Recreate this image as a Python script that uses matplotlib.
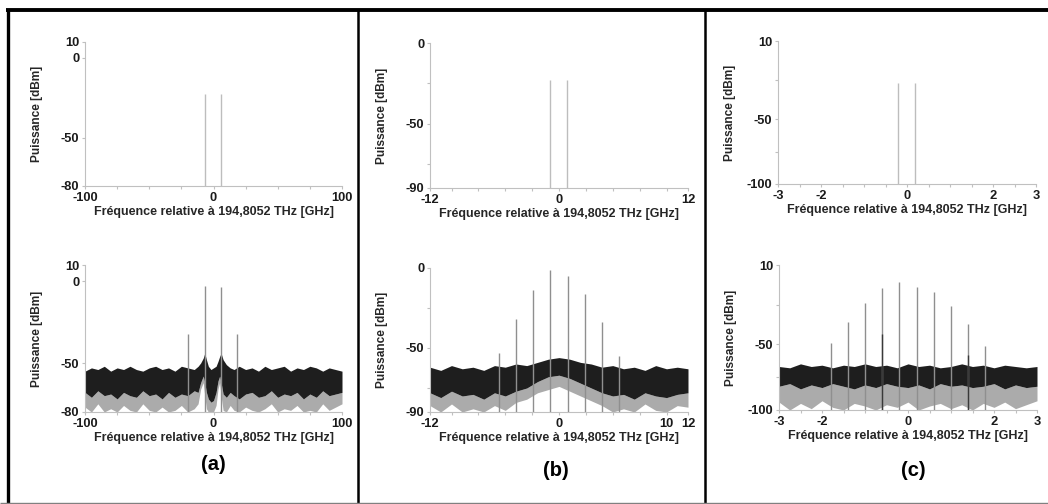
import numpy as np
import matplotlib.pyplot as plt
from matplotlib.lines import Line2D

plt.rcParams['font.family'] = ['Liberation Sans', 'DejaVu Sans']
plt.rcParams['font.weight'] = 'bold'
plt.rcParams['axes.unicode_minus'] = False

W, H = 1048, 504

# --- (a) : +/- 100 GHz ---
raies_a_haut = [-6.6, 6.0]
niv_a_haut = [-22.5, -22.5]
raies_a_bas = [-19.6, -6.6, 6.0, 18.6]
niv_a_bas = [-32, -3, -3.7, -32]
bruit_a_x = [-100, -95, -90, -85, -80, -75, -70, -65, -60, -55, -50, -45, -40, -35, -30, -25, -20,
             -15, -12, -10, -8, -6.8, -5.5, -4, -2, 0, 2, 3.5, 4.8, 5.9, 7.5, 10, 13, 16, 20, 25,
             30, 35, 40, 45, 50, 55, 60, 65, 70, 75, 80, 85, 90, 95, 100]
bruit_a_haut = [-55, -53, -54, -52, -55, -53, -54, -52, -54, -55,
                -53, -52, -54, -53, -55, -52, -53, -54, -52, -50,
                -47, -44, -48, -52, -54, -53, -52, -49, -46, -44,
                -48, -51, -53, -54, -52, -54, -53, -55, -52, -54,
                -53, -52, -55, -53, -54, -52, -53, -55, -53, -54, -55]
bruit_a_bas = [-68, -71, -67, -70, -69, -72, -68, -70, -71, -67,
               -70, -69, -72, -68, -71, -69, -70, -67, -68, -62,
               -58, -62, -68, -72, -74, -73, -68, -61, -58, -62,
               -69, -71, -68, -70, -72, -69, -68, -71, -70, -67,
               -71, -69, -70, -68, -72, -69, -71, -67, -70, -69, -68]
bruit_a_gris = [-77, -80, -75, -80, -78, -80, -76, -79, -80, -75,
                -79, -80, -77, -80, -79, -76, -80, -78, -75, -66,
                -62, -70, -78, -80, -80, -80, -76, -66, -62, -70,
                -79, -80, -76, -79, -80, -77, -79, -80, -78, -75,
                -80, -78, -79, -76, -80, -79, -80, -75, -79, -77, -75]

# --- (b) : +/- 12 GHz ---
raies_b_haut = [-0.85, 0.75]
niv_b_haut = [-23, -23]
raies_b_bas = [-5.6, -4.0, -2.4, -0.8, 0.85, 2.4, 4.0, 5.6]
niv_b_bas = [-53, -32, -14, -1.5, -5.2, -16, -34, -55]
bruit_b_x = [-12, -11, -10, -9, -8, -7, -6, -5, -4, -3, -2, -1, 0, 1, 2, 3, 4, 5, 6, 7, 8, 9, 10, 11, 12]
bruit_b_haut = [-62, -64, -61, -63, -62, -64, -61, -62, -60, -61, -59, -57, -56, -57, -59, -60, -62,
                -61, -63, -62, -64, -61, -63, -62, -63]
bruit_b_bas = [-78, -81, -77, -80, -79, -82, -78, -80, -77, -75, -71, -68, -67, -69, -72, -75, -78,
               -80, -79, -82, -78, -80, -81, -79, -78]
bruit_b_gris = [-86, -90, -85, -90, -88, -90, -86, -89, -84, -82, -78, -76, -74, -77, -80, -83, -86,
                -90, -88, -90, -85, -89, -90, -86, -87]

# --- (c) : +/- 3 GHz ---
raies_c_haut = [-0.21, 0.19]
niv_c_haut = [-22.5, -22.5]
raies_c_bas = [-1.8, -1.4, -1.0, -0.6, -0.2, 0.2, 0.6, 1.0, 1.4, 1.8]
niv_c_bas = [-49.5, -33.5, -19, -7.7, -2.6, -6.9, -10.5, -21, -35, -51.5]
raies_c_sombres = [-0.6, 1.4]
niv_c_sombres = [-42, -58]
bruit_c_x = [-3, -2.75, -2.5, -2.25, -2, -1.75, -1.5, -1.25, -1, -0.75, -0.5, -0.25, 0, 0.25, 0.5,
             0.75, 1, 1.25, 1.5, 1.75, 2, 2.25, 2.5, 2.75, 3]
bruit_c_haut = [-67, -68, -65, -67, -66, -68, -66, -67, -65, -67, -66, -68, -65, -67, -66, -68, -67,
                -65, -67, -66, -68, -66, -67, -68, -67]
bruit_c_bas = [-82, -80, -84, -81, -83, -80, -82, -84, -81, -83, -80, -82, -83, -81, -84, -80, -82,
               -81, -83, -82, -80, -84, -81, -83, -82]
bruit_c_gris = [-94, -100, -95, -99, -93, -98, -100, -95, -97, -100, -96, -98, -94, -100, -97, -95,
                -99, -96, -100, -95, -98, -94, -99, -96, -93]

panneaux = [
    dict(box=(85, 42, 342, 186), xlim=(-100, 100), ylim=(-80, 10), xt=[-100, 0, 100],
         xmin=np.arange(-75, 100, 25), yt=[10, 0, -50, -80], ymin=[],
         raies=raies_a_haut, niv=niv_a_haut, coul='#bdbdbd', bruit=None),
    dict(box=(85, 265, 342, 412), xlim=(-100, 100), ylim=(-80, 10), xt=[-100, 0, 100],
         xmin=np.arange(-75, 100, 25), yt=[10, 0, -50, -80], ymin=[],
         raies=raies_a_bas, niv=niv_a_bas, coul='#8f8f8f',
         bruit=(bruit_a_x, bruit_a_haut, bruit_a_bas, bruit_a_gris)),
    dict(box=(430, 43, 688, 188), xlim=(-12, 12), ylim=(-90, 0), xt=[-12, 0, 12],
         xmin=np.arange(-10, 11, 2.5), yt=[0, -50, -90], ymin=[-25, -75],
         raies=raies_b_haut, niv=niv_b_haut, coul='#bdbdbd', bruit=None),
    dict(box=(430, 268, 688, 412), xlim=(-12, 12), ylim=(-90, 0), xt=[-12, 0, 10, 12],
         xmin=np.arange(-10, 11, 2.5), yt=[0, -50, -90], ymin=[-25, -75],
         raies=raies_b_bas, niv=niv_b_bas, coul='#8f8f8f',
         bruit=(bruit_b_x, bruit_b_haut, bruit_b_bas, bruit_b_gris)),
    dict(box=(778, 41, 1036, 184), xlim=(-3, 3), ylim=(-100, 10), xt=[-3, -2, 0, 2, 3],
         xmin=np.arange(-2.5, 3, 0.5), yt=[10, -50, -100], ymin=[-20, -75],
         raies=raies_c_haut, niv=niv_c_haut, coul='#bdbdbd', bruit=None),
    dict(box=(779, 265, 1037, 410), xlim=(-3, 3), ylim=(-100, 10), xt=[-3, -2, 0, 2, 3],
         xmin=np.arange(-2.5, 3, 0.5), yt=[10, -50, -100], ymin=[-20, -75],
         raies=raies_c_bas, niv=niv_c_bas, coul='#8f8f8f',
         bruit=(bruit_c_x, bruit_c_haut, bruit_c_bas, bruit_c_gris)),
]

fig = plt.figure(figsize=(W / 100, H / 100), dpi=100)
axes = []

for p in panneaux:
    x0, y0, x1, y1 = p['box']
    w, h = x1 - x0, y1 - y0
    ax = fig.add_axes([x0 / W, 1 - y1 / H, w / W, h / H])
    axes.append(ax)
    bas = p['ylim'][0]
    if p['bruit'] is not None:
        bx, bh, bb, bg = p['bruit']
        ax.fill_between(bx, bg, bb, color='#ababab', lw=0, zorder=1)
        ax.fill_between(bx, bb, bh, color='#1e1e1e', lw=0, zorder=2)
    ax.vlines(p['raies'], bas, p['niv'], color=p['coul'], lw=1.0, zorder=3)
    ax.set_xlim(*p['xlim'])
    ax.set_ylim(*p['ylim'])
    ax.set_xticks(p['xt'])
    ax.set_xticklabels([str(v) for v in p['xt']])
    ax.set_xticks(p['xmin'], minor=True)
    ax.set_yticks(p['yt'])
    ax.set_yticklabels([str(v) for v in p['yt']])
    ax.set_yticks(p['ymin'], minor=True)
    for s in ['top', 'right']:
        ax.spines[s].set_visible(False)
    for s in ['left', 'bottom']:
        ax.spines[s].set_color('#c0c0c0')
        ax.spines[s].set_linewidth(0.8)
    ax.tick_params(which='both', color='#c0c0c0', width=0.8, length=2.5, labelsize=9.3, pad=1.5,
                   labelcolor='#1a1a1a')
    for lab in ax.get_xticklabels() + ax.get_yticklabels():
        lab.set_fontweight('bold')
    ax.set_xlabel('Fréquence relative à 194,8052 THz [GHz]', fontsize=9, fontweight='bold',
                  color='#262626', va='center')
    ax.xaxis.set_label_coords(0.5, -26 / h)
    ax.set_ylabel('Puissance [dBm]', fontsize=8.6, fontweight='bold', color='#262626', va='center')
    ax.yaxis.set_label_coords(-48 / w, 0.5)
    ax.patch.set_alpha(0)

# raies sombres superposées dans (c)
axes[5].vlines(raies_c_sombres, -100, niv_c_sombres, color='#3a3a3a', lw=1.0, zorder=4)

# étiquettes des sous-figures
fig.text(213 / W, 1 - 464 / H, '(a)', ha='center', va='center', fontsize=14.5, fontweight='bold')
fig.text(556 / W, 1 - 470 / H, '(b)', ha='center', va='center', fontsize=14.5, fontweight='bold')
fig.text(913 / W, 1 - 470 / H, '(c)', ha='center', va='center', fontsize=14.5, fontweight='bold')

# cadre
def trait(xs, ys, lw, c):
    fig.add_artist(Line2D([x / W for x in xs], [1 - y / H for y in ys], lw=lw, color=c,
                          transform=fig.transFigure, solid_capstyle='butt'))

trait([6, W], [10, 10], 2.8, 'black')
trait([7.5, 7.5], [8.5, H], 2.4, 'black')
trait([357.5, 357.5], [10, H], 1.8, 'black')
trait([704.5, 704.5], [10, H], 1.8, 'black')
trait([0, W], [503, 503], 1.0, '#808080')

fig.savefig('out.png', dpi=100)
